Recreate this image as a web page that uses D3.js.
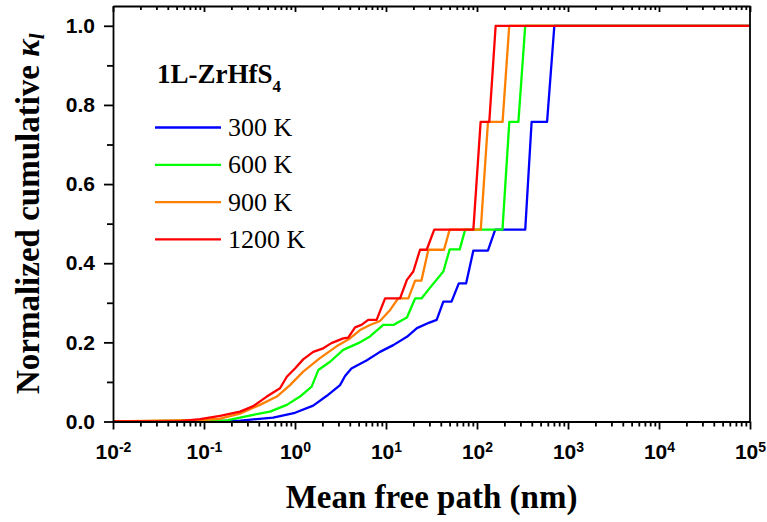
<!DOCTYPE html>
<html lang="en">
<head>
<meta charset="UTF-8">
<title>Normalized cumulative kappa vs mean free path</title>
<script src="https://d3js.org/d3.v7.min.js"></script>
<style>
  body { margin: 0; background: #fff; }
  .axis text { font: bold 21px "Liberation Sans", Arial, sans-serif; fill: #000; }
  .axis path, .axis line { stroke: #000; stroke-width: 1.8px; }
  .curve { fill: none; stroke-width: 2.3px; stroke-linejoin: round; }
  .serif { font-family: "Liberation Serif", "Times New Roman", serif; fill: #000; }
</style>
</head>
<body>
<svg width="767" height="522"></svg>
<script>
// series labels and colours
const temps = ["300 K", "600 K", "900 K", "1200 K"];
const colors = ["#0000ff", "#00ff00", "#ff8000", "#ff0000"];

// mean free path (nm) and normalized cumulative kappa
const mfp300 = [0.01, 0.251, 0.575, 1.0, 1.585, 2.239, 3.126, 3.548, 4.169, 6.166, 8.59, 12.02, 16.98, 21.88, 30.0, 36.06, 42.66, 52.48, 63.1, 75.86, 91.2, 131.8, 158.5, 338.8, 398.1, 588.8, 707.9, 1e5];
const k300   = [0, 0.002, 0.01, 0.022, 0.04, 0.065, 0.092, 0.115, 0.134, 0.155, 0.176, 0.193, 0.214, 0.236, 0.25, 0.257, 0.303, 0.303, 0.349, 0.349, 0.432, 0.432, 0.485, 0.485, 0.757, 0.757, 1.0, 1.0];

const mfp600 = [0.01, 0.178, 0.348, 0.531, 0.813, 1.135, 1.524, 1.803, 2.427, 3.388, 4.966, 6.668, 9.333, 12.02, 16.98, 20.89, 24.55, 30.2, 42.66, 50.12, 64.57, 74.13, 190.5, 226.5, 285.1, 338.8, 1e5];
const k600   = [0, 0.003, 0.017, 0.025, 0.042, 0.063, 0.088, 0.13, 0.151, 0.181, 0.198, 0.215, 0.244, 0.244, 0.263, 0.311, 0.311, 0.337, 0.379, 0.435, 0.435, 0.485, 0.485, 0.757, 0.757, 1.0, 1.0];

const mfp900 = [0.01, 0.1, 0.15, 0.249, 0.412, 0.631, 0.881, 1.23, 1.88, 2.86, 4.02, 5.18, 6.67, 8.59, 11.1, 13.6, 17.6, 20.9, 24.5, 29.2, 43.4, 50.1, 110, 132, 191, 226, 1e5];
const k900   = [0, 0.004, 0.007, 0.02, 0.042, 0.063, 0.092, 0.126, 0.16, 0.19, 0.21, 0.231, 0.244, 0.254, 0.282, 0.311, 0.311, 0.356, 0.356, 0.434, 0.434, 0.485, 0.485, 0.757, 0.757, 1.0, 1.0];

const mfp1200 = [0.01, 0.055, 0.0904, 0.15, 0.249, 0.348, 0.49, 0.684, 0.813, 1.0, 1.23, 1.585, 2.042, 2.512, 3.388, 3.846, 4.571, 5.37, 6.383, 7.889, 9.772, 14.26, 16.98, 19.95, 23.66, 27.99, 33.88, 91.2, 109.6, 136.5, 160.3, 1e5];
const k1200   = [0, 0.001, 0.006, 0.014, 0.025, 0.039, 0.063, 0.084, 0.113, 0.134, 0.157, 0.176, 0.185, 0.198, 0.21, 0.212, 0.238, 0.244, 0.257, 0.257, 0.311, 0.311, 0.358, 0.379, 0.434, 0.434, 0.485, 0.485, 0.757, 0.757, 1.0, 1.0];

const yTicks = [0, 0.2, 0.4, 0.6, 0.8, 1.0];
const yMinor = [0.1, 0.3, 0.5, 0.7, 0.9];
const xExps = [-2, -1, 0, 1, 2, 3, 4, 5];

const series = [
    { name: temps[0], color: colors[0], x: mfp300, y: k300 },
    { name: temps[1], color: colors[1], x: mfp600, y: k600 },
    { name: temps[2], color: colors[2], x: mfp900, y: k900 },
    { name: temps[3], color: colors[3], x: mfp1200, y: k1200 }
];

const plotL = 113, plotR = 750, plotT = 6, plotB = 421.5;

const x = d3.scaleLog().domain([1e-2, 1e5]).range([plotL, plotR]);
const y = d3.scaleLinear().domain([0, 1.05]).range([plotB, plotT]);

const svg = d3.select("svg");

const xMajor = xExps.map(e => Math.pow(10, e));
const xMinor = [];
xExps.slice(0, -1).forEach(e => {
    for (let m = 2; m <= 9; m++) xMinor.push(m * Math.pow(10, e));
});

// curves first so the frame sits on top
const line = d3.line().x(d => x(d[0])).y(d => y(d[1]));
svg.append("g")
    .selectAll("path")
    .data(series)
    .enter()
    .append("path")
    .attr("class", "curve")
    .attr("stroke", d => d.color)
    .attr("d", d => line(d.x.map((v, i) => [v, d.y[i]])));

// bottom axis
const gx = svg.append("g")
    .attr("class", "axis")
    .attr("transform", `translate(0,${plotB})`)
    .call(d3.axisBottom(x).tickValues(xMajor).tickSize(8).tickSizeOuter(0).tickPadding(15));
gx.selectAll(".tick text").text(null)
    .each(function(d) {
        const t = d3.select(this);
        t.append("tspan").text("10");
        t.append("tspan").attr("dy", "-0.55em").attr("font-size", "14px")
            .text(Math.round(Math.log10(d)));
    });
svg.append("g")
    .attr("class", "axis")
    .attr("transform", `translate(0,${plotB})`)
    .call(d3.axisBottom(x).tickValues(xMinor).tickSize(5).tickFormat("").tickSizeOuter(0))
    .select(".domain").remove();

// top axis, ticks inward, no labels
svg.append("g")
    .attr("class", "axis")
    .attr("transform", `translate(0,${plotT})`)
    .call(d3.axisBottom(x).tickValues(xMajor).tickSize(6).tickFormat("").tickSizeOuter(0));
svg.append("g")
    .attr("class", "axis")
    .attr("transform", `translate(0,${plotT})`)
    .call(d3.axisBottom(x).tickValues(xMinor).tickSize(4).tickFormat("").tickSizeOuter(0))
    .select(".domain").remove();

// left axis
svg.append("g")
    .attr("class", "axis")
    .attr("transform", `translate(${plotL},0)`)
    .call(d3.axisLeft(y).tickValues(yTicks).tickSize(9).tickSizeOuter(0).tickPadding(9).tickFormat(d3.format(".1f")));
svg.append("g")
    .attr("class", "axis")
    .attr("transform", `translate(${plotL},0)`)
    .call(d3.axisLeft(y).tickValues(yMinor).tickSize(6).tickFormat("").tickSizeOuter(0))
    .select(".domain").remove();

// right border
svg.append("line")
    .attr("x1", plotR).attr("x2", plotR)
    .attr("y1", plotT).attr("y2", plotB)
    .attr("stroke", "#000").attr("stroke-width", 1.8);

// axis titles
svg.append("text")
    .attr("class", "serif")
    .attr("x", (plotL + plotR) / 2)
    .attr("y", 508)
    .attr("text-anchor", "middle")
    .attr("font-size", "33px")
    .attr("font-weight", "bold")
    .text("Mean free path (nm)");

const yt = svg.append("text")
    .attr("class", "serif")
    .attr("transform", `translate(39,${(plotT + plotB) / 2}) rotate(-90)`)
    .attr("text-anchor", "middle")
    .attr("font-size", "33px")
    .attr("font-weight", "bold");
yt.append("tspan").text("Normalized cumulative ");
yt.append("tspan").attr("font-style", "italic").text("\u03ba");
yt.append("tspan").attr("font-style", "italic").attr("font-size", "21px").attr("dy", "5").text("l");

// legend
const lt = svg.append("text")
    .attr("class", "serif")
    .attr("x", 157)
    .attr("y", 83)
    .attr("font-size", "27px")
    .attr("font-weight", "bold");
lt.append("tspan").text("1L-ZrHfS");
lt.append("tspan").attr("font-size", "17px").attr("dy", "9").text("4");

const leg = svg.append("g")
    .selectAll("g")
    .data(series)
    .enter()
    .append("g")
    .attr("transform", (d, i) => `translate(155,${127.5 + i * 37.3})`);
leg.append("line")
    .attr("x1", 0).attr("x2", 66)
    .attr("stroke", d => d.color)
    .attr("stroke-width", 2.3);
leg.append("text")
    .attr("class", "serif")
    .attr("x", 73)
    .attr("y", 8.5)
    .attr("font-size", "26px")
    .text(d => d.name);
</script>
</body>
</html>
